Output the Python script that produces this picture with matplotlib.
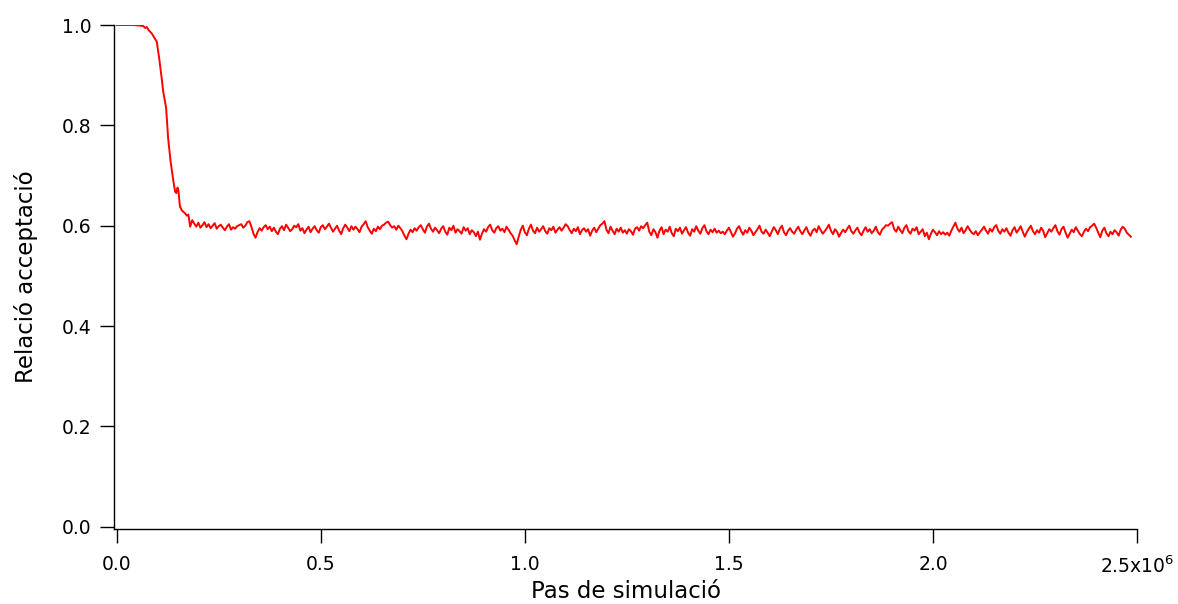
import numpy as np
import matplotlib
matplotlib.use("Agg")
import matplotlib.pyplot as plt

# equilibration: steps and acceptance ratio
steps_start = [0, 20000, 40000, 55000, 65000, 70000, 73500, 78000, 86000, 92000,
               98000, 104000, 110000, 114000, 121000, 126000, 132000, 139000,
               143000, 146000, 149000, 151000, 155000, 160000, 167000, 172000,
               175500, 180000, 185000]
ratio_start = [1.000, 1.000, 1.000, 0.999, 0.998, 0.994, 0.996, 0.990, 0.983, 0.975,
               0.967, 0.934, 0.895, 0.867, 0.835, 0.774, 0.728, 0.688,
               0.668, 0.665, 0.676, 0.671, 0.638, 0.630, 0.625, 0.620,
               0.622, 0.598, 0.611]

# plateau, sampled every 5000 steps from 190000 to 2485000
sample_every = 5000
plateau_first = 190000
ratio_plateau = [
    0.604, 0.598, 0.606, 0.596, 0.601, 0.607, 0.597, 0.603, 0.595, 0.600, 0.605, 0.594, 0.599, 0.602, 0.596, 0.591, 0.598, 0.603, 0.592, 0.597,
    0.594, 0.599, 0.601, 0.603, 0.596, 0.600, 0.607, 0.609, 0.598, 0.584, 0.576, 0.587, 0.595, 0.590, 0.597, 0.601, 0.593, 0.598, 0.589, 0.596,
    0.588, 0.583, 0.594, 0.599, 0.591, 0.602, 0.596, 0.589, 0.593, 0.600, 0.597, 0.603, 0.590, 0.595, 0.585, 0.592, 0.598, 0.587, 0.594, 0.599,
    0.591, 0.586, 0.597, 0.601, 0.593, 0.598, 0.604, 0.596, 0.588, 0.594, 0.600, 0.590, 0.583, 0.595, 0.602, 0.596, 0.589, 0.599, 0.592, 0.598,
    0.593, 0.587, 0.598, 0.603, 0.609, 0.597, 0.590, 0.584, 0.594, 0.589, 0.598, 0.593, 0.600, 0.602, 0.606, 0.608, 0.601, 0.596, 0.599, 0.592,
    0.600, 0.595, 0.589, 0.580, 0.573, 0.584, 0.592, 0.587, 0.595, 0.590, 0.597, 0.601, 0.593, 0.586, 0.598, 0.604, 0.594, 0.588, 0.596, 0.591,
    0.585, 0.594, 0.599, 0.588, 0.582, 0.596, 0.591, 0.600, 0.586, 0.593, 0.589, 0.584, 0.597, 0.590, 0.595, 0.583, 0.591, 0.587, 0.579, 0.588,
    0.572, 0.584, 0.593, 0.588, 0.597, 0.602, 0.591, 0.586, 0.595, 0.599, 0.590, 0.594, 0.587, 0.598, 0.592, 0.585, 0.580, 0.571, 0.563, 0.578,
    0.592, 0.600, 0.587, 0.581, 0.594, 0.602, 0.590, 0.585, 0.596, 0.588, 0.593, 0.599, 0.589, 0.584, 0.595, 0.591, 0.598, 0.586, 0.592, 0.597,
    0.590, 0.596, 0.603, 0.599, 0.591, 0.585, 0.594, 0.589, 0.597, 0.583, 0.591, 0.595, 0.588, 0.593, 0.580, 0.590, 0.596, 0.587, 0.594, 0.601,
    0.604, 0.609, 0.592, 0.585, 0.598, 0.590, 0.583, 0.594, 0.588, 0.596, 0.586, 0.591, 0.584, 0.593, 0.589, 0.582, 0.594, 0.597, 0.590, 0.599,
    0.595, 0.601, 0.606, 0.588, 0.581, 0.593, 0.587, 0.576, 0.590, 0.597, 0.583, 0.592, 0.588, 0.598, 0.585, 0.579, 0.594, 0.589, 0.596, 0.584,
    0.591, 0.597, 0.586, 0.580, 0.593, 0.588, 0.599, 0.590, 0.584, 0.595, 0.601, 0.589, 0.583, 0.592, 0.587, 0.594, 0.586, 0.590, 0.585, 0.588,
    0.583, 0.590, 0.596, 0.587, 0.578, 0.585, 0.594, 0.599, 0.589, 0.582, 0.591, 0.586, 0.596, 0.590, 0.581, 0.587, 0.593, 0.600, 0.588, 0.584,
    0.592, 0.586, 0.579, 0.588, 0.597, 0.591, 0.583, 0.594, 0.600, 0.587, 0.581, 0.590, 0.595, 0.588, 0.584, 0.592, 0.598, 0.589, 0.583, 0.591,
    0.597, 0.586, 0.580, 0.590, 0.594, 0.587, 0.599, 0.591, 0.584, 0.589, 0.595, 0.602, 0.590, 0.583, 0.593, 0.588, 0.578, 0.586, 0.592, 0.587,
    0.594, 0.600, 0.589, 0.584, 0.591, 0.596, 0.586, 0.581, 0.590, 0.597, 0.588, 0.593, 0.585, 0.590, 0.598, 0.587, 0.582, 0.592, 0.596, 0.601,
    0.600, 0.604, 0.607, 0.593, 0.588, 0.598, 0.591, 0.585, 0.596, 0.601, 0.589, 0.584, 0.594, 0.590, 0.597, 0.583, 0.588, 0.593, 0.579, 0.586,
    0.573, 0.584, 0.592, 0.587, 0.581, 0.589, 0.583, 0.587, 0.582, 0.586, 0.580, 0.590, 0.598, 0.606, 0.594, 0.588, 0.596, 0.585, 0.591, 0.599,
    0.592, 0.586, 0.583, 0.589, 0.581, 0.587, 0.592, 0.598, 0.590, 0.584, 0.594, 0.588, 0.597, 0.601, 0.590, 0.584, 0.593, 0.588, 0.595, 0.586,
    0.580, 0.591, 0.597, 0.586, 0.592, 0.599, 0.588, 0.578, 0.587, 0.594, 0.600, 0.589, 0.583, 0.591, 0.586, 0.596, 0.590, 0.577, 0.585, 0.593,
    0.588, 0.595, 0.601, 0.589, 0.582, 0.593, 0.598, 0.586, 0.576, 0.584, 0.592, 0.587, 0.597, 0.590, 0.583, 0.579, 0.588, 0.594, 0.589, 0.597,
    0.600, 0.604, 0.596, 0.586, 0.577, 0.590, 0.596, 0.585, 0.579, 0.588, 0.583, 0.591, 0.587, 0.580, 0.592, 0.598, 0.594, 0.586, 0.582, 0.578,
]
steps_plateau = plateau_first + sample_every * np.arange(len(ratio_plateau))

x_ticks = [0, 0.5e6, 1.0e6, 1.5e6, 2.0e6, 2.5e6]
x_ticklabels = ["0.0", "0.5", "1.0", "1.5", "2.0", r"2.5x10$^{6}$"]
y_ticks = [0.0, 0.2, 0.4, 0.6, 0.8, 1.0]
y_ticklabels = ["0.0", "0.2", "0.4", "0.6", "0.8", "1.0"]

steps = np.concatenate([steps_start, steps_plateau])
ratio = np.concatenate([ratio_start, ratio_plateau])

fig = plt.figure(figsize=(11.78, 6.04), dpi=100)
ax = fig.add_axes([0.0968, 0.1242, 0.8684, 0.8344])
ax.plot(steps, ratio, color="#ff0000", lw=1.4)

ax.set_xlim(-6600, 2.5e6)
ax.set_ylim(-0.0046, 1.0)
ax.set_xticks(x_ticks)
ax.set_xticklabels(x_ticklabels)
ax.set_yticks(y_ticks)
ax.set_yticklabels(y_ticklabels)

for s in ["top", "right"]:
    ax.spines[s].set_visible(False)
for s in ["left", "bottom"]:
    ax.spines[s].set_linewidth(1.0)
ax.tick_params(axis="both", direction="out", length=10, width=1.0, labelsize=13.5)
ax.tick_params(axis="x", pad=9)
ax.tick_params(axis="y", pad=6)

ax.set_xlabel("Pas de simulació", fontsize=16.5, labelpad=2)
ax.set_ylabel("Relació acceptació", fontsize=16.5, labelpad=17)

fig.savefig("out.png", dpi=100)
